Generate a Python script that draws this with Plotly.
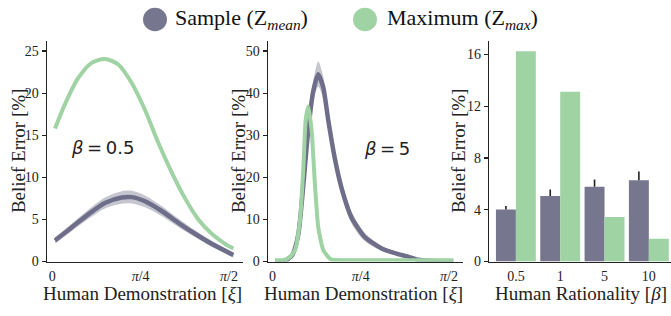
import plotly.graph_objects as go

# ---------------- data ----------------
# Panel 1 (beta = 0.5)
xi_max_1 = [0.024, 0.113, 0.231, 0.350, 0.468, 0.587, 0.706, 0.824, 0.942, 1.061, 1.180, 1.298, 1.417, 1.535, 1.609]
err_max_1 = [15.8, 18.7, 21.8, 23.6, 24.05, 23.4, 21.2, 18.0, 14.1, 10.6, 7.5, 5.0, 3.3, 2.1, 1.55]

xi_mean_1 = [0.024, 0.172, 0.320, 0.468, 0.617, 0.706, 0.824, 0.972, 1.120, 1.268, 1.417, 1.609]
err_mean_1 = [2.5, 4.05, 5.6, 6.95, 7.6, 7.65, 7.15, 6.0, 4.6, 3.3, 2.1, 0.77]
band_mean_1 = [0.35, 0.45, 0.55, 0.65, 0.75, 0.75, 0.7, 0.6, 0.5, 0.4, 0.35, 0.3]

# Panel 2 (beta = 5)
xi_max_2 = [0.022, 0.10, 0.15, 0.20, 0.244, 0.274, 0.295, 0.318, 0.348, 0.378, 0.407, 0.452, 0.52, 0.65, 1.0, 1.609]
err_max_2 = [0.3, 0.35, 0.9, 2.7, 9.6, 22.0, 33.5, 36.8, 31.2, 18.1, 8.1, 2.7, 0.5, 0.3, 0.3, 0.3]

xi_mean_2 = [0.022, 0.10, 0.175, 0.23, 0.274, 0.318, 0.363, 0.407, 0.452, 0.496, 0.556, 0.615, 0.704, 0.822, 0.971, 1.118, 1.2, 1.296, 1.42, 1.609]
err_mean_2 = [0.0, 0.0, 1.5, 6.5, 18.1, 31.2, 40.5, 44.5, 41.3, 33.6, 24.3, 17.4, 10.4, 5.8, 3.1, 1.76, 1.2, 0.4, 0.1, 0.05]
band_mean_2 = [0, 0, 0.2, 0.6, 1.2, 1.8, 2.5, 3.0, 2.6, 2.2, 1.9, 1.7, 1.4, 1.0, 0.6, 0.4, 0.3, 0.2, 0.1, 0.05]

# Panel 3 (bars)
rationality = ["0.5", "1", "5", "10"]
bar_mean = [4.02, 5.07, 5.77, 6.28]
bar_mean_err = [0.27, 0.5, 0.56, 0.68]
bar_max = [16.25, 13.13, 3.44, 1.76]

# tick labels
xi_tickvals = [0, 0.7853981634, 1.5707963268]
xi_ticktext = ["0", "<i>π</i>/4", "<i>π</i>/2"]

# ---------------- style ----------------
PURPLE = "#77768f"
PURPLE_LINE = "#6f6e8a"
BAND = "rgba(119,118,143,0.42)"
GREEN = "#9fd3a3"
AXC = "#222222"
SERIF = "Liberation Serif"
W, H = 671, 316


def px(x):
    return x / W


def py(y):
    return 1 - y / H


fig = go.Figure()


def add_band(xs, ys, hw, xa, ya):
    upper = [y + h for y, h in zip(ys, hw)]
    lower = [max(y - h, 0) for y, h in zip(ys, hw)]
    fig.add_trace(go.Scatter(x=xs, y=upper, mode="lines", line=dict(width=0, shape="spline", smoothing=0.8),
                             xaxis=xa, yaxis=ya, showlegend=False, hoverinfo="skip"))
    fig.add_trace(go.Scatter(x=xs, y=lower, mode="lines", line=dict(width=0, shape="spline", smoothing=0.8),
                             fill="tonexty", fillcolor=BAND,
                             xaxis=xa, yaxis=ya, showlegend=False, hoverinfo="skip"))


# panel 1
add_band(xi_mean_1, err_mean_1, band_mean_1, "x", "y")
fig.add_trace(go.Scatter(x=xi_mean_1, y=err_mean_1, mode="lines",
                         line=dict(color=PURPLE_LINE, width=4.5, shape="spline", smoothing=0.8),
                         xaxis="x", yaxis="y", showlegend=False))
fig.add_trace(go.Scatter(x=xi_max_1, y=err_max_1, mode="lines",
                         line=dict(color=GREEN, width=4, shape="spline", smoothing=0.8),
                         xaxis="x", yaxis="y", showlegend=False))

# panel 2
add_band(xi_mean_2, err_mean_2, band_mean_2, "x2", "y2")
fig.add_trace(go.Scatter(x=xi_mean_2, y=err_mean_2, mode="lines",
                         line=dict(color=PURPLE_LINE, width=4.5, shape="spline", smoothing=0.6),
                         xaxis="x2", yaxis="y2", showlegend=False))
fig.add_trace(go.Scatter(x=xi_max_2, y=err_max_2, mode="lines",
                         line=dict(color=GREEN, width=4, shape="spline", smoothing=0.5),
                         xaxis="x2", yaxis="y2", showlegend=False))

# panel 3
fig.add_trace(go.Bar(x=rationality, y=bar_mean, marker=dict(color=PURPLE, line=dict(width=0)),
                     error_y=dict(type="data", array=bar_mean_err, arrayminus=[0] * 4, symmetric=False,
                                  color=AXC, thickness=1.6, width=0),
                     xaxis="x3", yaxis="y3", showlegend=False))
fig.add_trace(go.Bar(x=rationality, y=bar_max, marker=dict(color=GREEN, line=dict(width=0)),
                     xaxis="x3", yaxis="y3", showlegend=False))

ydom = [py(268.3), py(42)]
common_axis = dict(showline=True, linecolor=AXC, linewidth=1.5, showgrid=False, zeroline=False,
                   tickfont=dict(family=SERIF, size=14, color=AXC))
yaxis_style = dict(common_axis, ticks="outside", ticklen=4, tickwidth=1.2, tickcolor=AXC)
xaxis_style = dict(common_axis, ticks="", ticklabelstandoff=1)

fig.update_layout(
    width=W, height=H,
    margin=dict(l=0, r=0, t=0, b=0),
    paper_bgcolor="white", plot_bgcolor="white",
    barmode="group", bargap=0.1, bargroupgap=0,
    showlegend=False,
    xaxis=dict(xaxis_style, domain=[px(47), px(243)], range=[-0.047, 1.695],
               tickvals=xi_tickvals, ticktext=xi_ticktext, anchor="y"),
    yaxis=dict(yaxis_style, domain=ydom, range=[0, 26.2], tickvals=[0, 5, 10, 15, 20, 25], anchor="x"),
    xaxis2=dict(xaxis_style, domain=[px(268), px(463)], range=[-0.04, 1.695],
                tickvals=xi_tickvals, ticktext=xi_ticktext, anchor="y2"),
    yaxis2=dict(yaxis_style, domain=ydom, range=[0, 52.4], tickvals=[0, 10, 20, 30, 40, 50], anchor="x2"),
    xaxis3=dict(xaxis_style, domain=[px(489.3), 1.0], range=[-0.6, 3.5], type="category", anchor="y3"),
    yaxis3=dict(yaxis_style, domain=ydom, range=[0, 17.05], tickvals=[0, 4, 8, 12, 16], anchor="x3"),
)

ann = []
# axis titles
for cx, txt in [(142, "Human Demonstration [<i>ξ</i>]"), (363, "Human Demonstration [<i>ξ</i>]"),
                (581, "Human Rationality [<i>β</i>]")]:
    ann.append(dict(x=px(cx), y=py(301), xref="paper", yref="paper", text=txt, showarrow=False,
                    xanchor="center", yanchor="middle", font=dict(family=SERIF, size=19, color=AXC)))
for cx in [18, 238, 458]:
    ann.append(dict(x=px(cx), y=py(155), xref="paper", yref="paper", text="Belief Error [%]", showarrow=False,
                    textangle=-90, xanchor="center", yanchor="middle", font=dict(family=SERIF, size=19, color=AXC)))
# beta labels
ann.append(dict(x=0.45, y=13.6, xref="x", yref="y", text="<i>β</i>\u2009=\u20090.5", showarrow=False,
                font=dict(family="DejaVu Sans", size=18, color=AXC)))
ann.append(dict(x=1.015, y=26.9, xref="x2", yref="y2", text="<i>β</i>\u2009=\u20095", showarrow=False,
                font=dict(family="DejaVu Sans", size=18, color=AXC)))
# legend text
ann.append(dict(x=px(173), y=py(20), xref="paper", yref="paper", text="Sample (Z<sub><i>mean</i></sub>)",
                showarrow=False, xanchor="left", yanchor="middle", font=dict(family=SERIF, size=22, color="#111")))
ann.append(dict(x=px(385), y=py(20), xref="paper", yref="paper", text="Maximum (Z<sub><i>max</i></sub>)",
                showarrow=False, xanchor="left", yanchor="middle", font=dict(family=SERIF, size=22, color="#111")))
fig.update_layout(annotations=ann)

# legend markers
fig.add_shape(type="circle", xref="paper", yref="paper", x0=px(143), x1=px(167), y0=py(32), y1=py(8),
              fillcolor=PURPLE, line=dict(width=0))
fig.add_shape(type="circle", xref="paper", yref="paper", x0=px(353), x1=px(377), y0=py(32), y1=py(8),
              fillcolor=GREEN, line=dict(width=0))

fig.write_html("out.html",
               config={"displayModeBar": False, "staticPlot": True},
               post_script="document.body.style.margin='0';document.documentElement.style.overflow='hidden';")
